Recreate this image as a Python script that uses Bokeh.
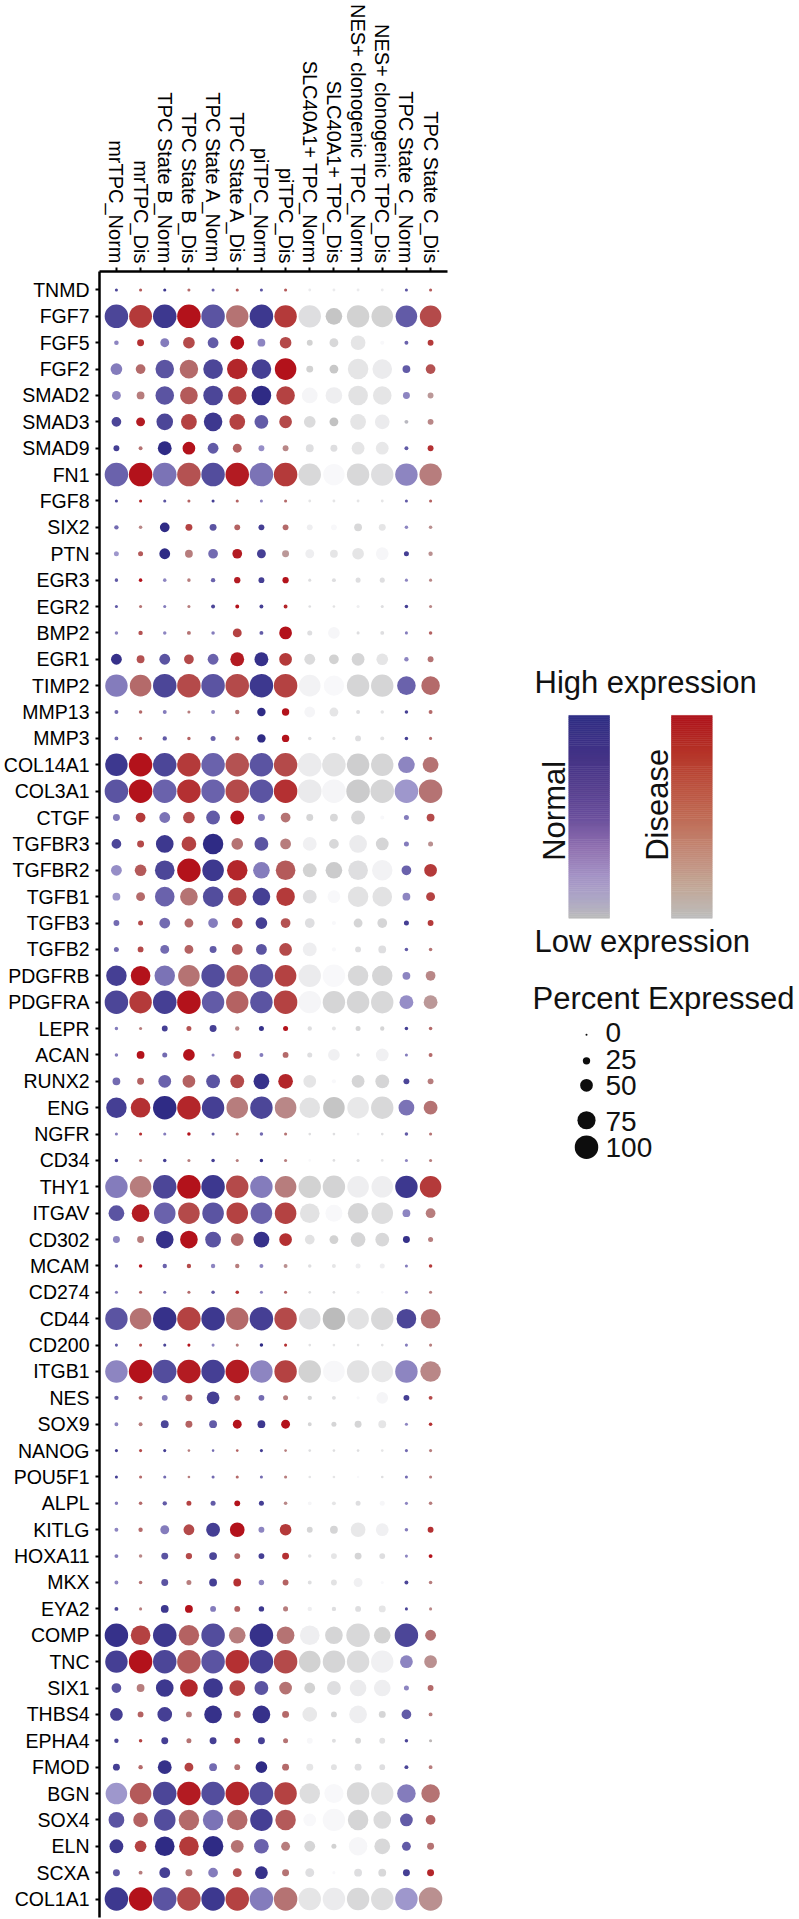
import math
import numpy as np
import pandas as pd
from bokeh.plotting import figure
from bokeh.models import (ColumnDataSource, LinearColorMapper, LinearInterpolator,
                          Range1d, FactorRange)
from bokeh.transform import transform
from bokeh.layouts import row
from bokeh.embed import file_html
from bokeh.resources import INLINE
from bokeh.core.properties import value

# ---------------- data ----------------
genes = ["TNMD", "FGF7", "FGF5", "FGF2", "SMAD2", "SMAD3", "SMAD9", "FN1", "FGF8", "SIX2",
         "PTN", "EGR3", "EGR2", "BMP2", "EGR1", "TIMP2", "MMP13", "MMP3", "COL14A1", "COL3A1",
         "CTGF", "TGFBR3", "TGFBR2", "TGFB1", "TGFB3", "TGFB2", "PDGFRB", "PDGFRA", "LEPR", "ACAN",
         "RUNX2", "ENG", "NGFR", "CD34", "THY1", "ITGAV", "CD302", "MCAM", "CD274", "CD44",
         "CD200", "ITGB1", "NES", "SOX9", "NANOG", "POU5F1", "ALPL", "KITLG", "HOXA11", "MKX",
         "EYA2", "COMP", "TNC", "SIX1", "THBS4", "EPHA4", "FMOD", "BGN", "SOX4", "ELN",
         "SCXA", "COL1A1"]

clusters = ["mrTPC_Norm", "mrTPC_Dis", "TPC State B_Norm", "TPC State B_Dis",
            "TPC State A_Norm", "TPC State A_Dis", "piTPC_Norm", "piTPC_Dis",
            "SLC40A1+ TPC_Norm", "SLC40A1+ TPC_Dis", "NES+ clonogenic TPC_Norm",
            "NES+ clonogenic TPC_Dis", "TPC State C_Norm", "TPC State C_Dis"]

# colour scale used by each cluster: N = normal (blue), D = disease (red), G = grey
cluster_scale = ["N", "D", "N", "D", "N", "D", "N", "D", "G", "G", "G", "G", "N", "D"]

# percent expressed, one list per cluster (gene order as above)
pct_mr_norm = [5,100,12,45,32,36,18,100,5,11, 14,7,5,7,41,95,9,9,95,100, 23,36,41,27,18,14,86,100,7,7,
               27,86,5,7,95,64,23,7,5,95, 5,95,11,9,5,5,7,9,9,9, 9,100,95,36,50,11,23,91,64,55,23,100]
pct_mr_dis = [5,97,23,36,27,32,9,100,5,7, 14,7,5,11,27,91,7,5,100,100, 36,23,45,32,14,18,82,95,5,27,
              23,82,5,5,91,73,23,7,5,91, 5,100,9,9,5,5,7,11,7,7, 5,82,100,27,18,7,11,91,59,45,9,100]
pct_B_norm = [5,100,32,77,77,68,55,100,5,36, 41,7,5,7,41,100,9,11,100,100, 41,73,82,82,41,32,86,100,18,14,
              50,100,5,7,100,91,73,11,5,100, 5,100,18,27,5,5,11,32,23,23, 27,100,100,73,59,23,55,100,91,82,41,100]
pct_B_dis = [5,100,45,77,73,64,50,100,5,23, 27,7,5,9,36,100,5,7,100,100, 45,59,100,73,32,32,91,100,14,45,
             50,100,7,5,100,91,73,11,5,100, 5,100,23,23,3,3,14,41,20,14, 27,86,100,73,18,14,32,100,86,82,23,100]
pct_A_norm = [5,100,41,82,82,77,41,100,5,23, 36,11,9,7,41,100,9,14,100,100, 55,86,91,86,36,23,100,95,23,5,
              55,95,5,7,100,91,64,11,7,100, 5,100,50,27,3,5,14,55,27,27, 18,100,100,82,73,23,27,100,86,86,36,100]
pct_A_dis = [5,95,55,86,77,64,32,100,5,18, 36,20,9,32,55,100,11,11,100,100, 55,45,86,77,41,41,91,95,11,27,
             55,91,5,5,95,91,50,11,7,95, 5,100,18,32,3,5,18,59,18,27, 18,68,100,64,23,18,18,100,86,50,32,100]
pct_pi_norm = [5,100,27,82,82,55,18,100,5,18, 32,18,9,9,55,100,30,30,100,100, 23,55,68,73,45,41,100,95,14,9,
               64,95,7,7,95,91,64,9,5,100, 7,95,18,27,5,5,14,18,18,16, 16,100,100,55,73,23,45,100,95,59,50,100]
pct_pi_dis = [5,95,45,91,77,50,18,100,5,18, 23,20,9,50,50,100,25,25,100,100, 36,41,82,77,36,50,91,100,14,18,
              59,91,5,5,91,91,50,9,5,95, 5,95,14,32,3,5,7,45,23,18, 14,73,100,50,23,14,23,95,86,32,23,100]
pct_slc_norm = [4,95,18,23,64,45,27,95,4,18, 32,5,3,14,41,91,41,7,100,100, 23,55,55,55,36,55,95,95,11,14,
                50,86,3,3,95,82,36,7,3,91, 3,95,11,9,3,3,9,18,7,9, 11,82,91,41,59,18,23,86,50,41,32,95]
pct_slc_dis = [4,68,32,32,68,32,23,90,4,18, 27,9,3,45,36,85,32,5,100,100, 27,36,68,50,10,10,95,95,9,45,
               10,91,3,3,95,70,32,9,3,95, 3,91,9,14,3,3,9,27,18,18, 11,73,95,55,18,9,18,80,95,14,5,95]
pct_nes_norm = [4,95,59,86,82,64,50,95,4,27, 45,14,5,5,50,95,9,18,95,100, 55,73,82,86,32,18,86,95,14,7,
                50,91,3,5,91,86,59,14,5,91, 3,95,5,23,3,2,14,59,23,32, 18,100,95,68,73,18,23,95,86,77,27,95]
pct_nes_dis = [4,91,10,82,77,59,50,95,4,23, 50,14,5,9,45,95,7,9,95,100, 10,50,86,82,36,27,86,95,11,50,
               55,95,3,3,91,91,55,14,3,95, 3,91,45,27,3,3,14,50,18,5, 23,68,95,68,23,18,18,95,73,64,27,95]
pct_C_norm = [5,91,9,27,23,9,9,95,5,7, 14,5,7,5,11,77,7,7,68,100, 14,14,36,27,14,7,27,55,7,5,
              18,64,7,5,95,27,23,5,5,82, 5,95,18,5,5,5,5,7,5,9, 5,100,50,14,36,7,9,77,50,32,23,95]
pct_C_dis = [5,91,18,36,18,18,18,95,5,7, 11,5,5,7,18,77,9,5,64,100, 27,14,50,32,18,7,36,55,7,9,
             18,55,5,5,91,36,14,7,5,82, 5,86,9,7,5,5,7,18,9,7, 5,41,50,18,9,5,9,77,36,23,23,100]

# scaled average expression (0 = low, 1 = high), one list per cluster
expr_mr_norm = [.8,.8,.4,.45,.4,.8,.85,.6,.8,.55, .3,.65,.65,.4,.95,.45,.55,.55,.9,.7,
                .45,.8,.35,.3,.55,.55,.85,.8,.45,.45, .55,.85,.45,.85,.45,.7,.4,.65,.45,.7,
                .65,.4,.55,.4,.85,.85,.45,.4,.45,.4, .8,.95,.85,.7,.85,.8,.85,.3,.7,.9,.65,.9]
expr_mr_dis = [.6,.8,.85,.5,.4,.95,.45,1,.9,.35, .6,1,.45,.65,.65,.5,.5,.5,1,1,
               .8,.7,.6,.5,.7,.7,1,.8,.4,1, .55,.85,.85,.4,.4,.95,.4,1,.55,.45,
               .7,1,.5,.4,.7,.5,.5,.5,.35,.45, .4,.75,1,.4,.55,.75,.5,.6,.55,.75,.4,1]
expr_B_norm = [.9,.9,.45,.7,.7,.8,1,.5,.7,1, 1,.4,.45,.4,.7,.8,.45,.65,.8,.6,
               .5,.9,.8,.6,.55,.55,.5,.85,.85,.55, .6,1,.45,.85,.8,.6,.95,.6,.55,.95,
               .8,.75,.45,.8,.85,.55,.65,.45,.7,.7, .9,.9,.8,.9,.85,.85,.95,.8,.75,1,.85,.7]
expr_B_dis = [.5,1,.7,.5,.6,.75,1,.65,.55,.75, .4,.4,.4,.45,.7,.7,.4,.55,.8,.85,
              .7,.75,1,.45,.5,.55,.45,1,.65,1, .55,.9,1,.4,1,.7,1,.7,.5,.75,
              1,.95,.55,.55,.4,.4,.75,.7,.7,.4, 1,.55,.6,.9,.4,.45,.75,.95,.5,.8,.4,.7]
expr_A_norm = [.6,.7,.65,.8,.8,.9,.65,.75,.85,.7, .55,.6,.8,.45,.6,.7,.4,.6,.6,.6,
               .65,1,.9,.75,.45,.65,.75,.65,.85,.4, .7,.85,.65,.85,.9,.7,.7,.4,.65,.9,
               .4,.85,.85,.65,.55,.55,.65,.85,.8,.85, .45,.75,.7,.9,.95,.85,.55,.75,.5,1,.45,.9]
expr_A_dis = [.6,.45,1,.9,.75,.75,.55,.95,.55,.55, .95,.95,1,.75,.95,.7,.45,.5,.65,.7,
              1,.45,.9,.75,.7,.6,.6,.55,.35,.75, .7,.4,.45,.4,.7,.75,.5,.4,.85,.5,
              .4,.95,.45,1,.55,.5,1,1,.5,.85, .55,.4,.85,.75,.5,.7,.45,.9,.5,.45,.65,.75]
expr_pi_norm = [.7,.9,.4,.85,1,.65,.35,.5,.4,.85, .85,.85,.85,.65,.95,.9,1,1,.7,.7,
                .45,.7,.45,.85,.85,.7,.7,.7,.95,.45, .95,.8,.55,1,.45,.6,.95,.4,.4,.85,
                1,.4,.55,.9,.85,.55,.85,.4,.85,.4, .9,.95,.85,.7,.95,.85,1,.75,.85,.6,.95,.45]
expr_pi_dis = [.6,.8,.7,1,.75,.7,.35,.8,.5,.5, .25,1,.9,1,.8,.75,1,1,.7,.85,
               .45,.4,.6,.8,.65,.7,.75,.75,1,.5, .9,.35,.45,.4,.4,.75,.85,.3,.55,.7,
               .85,.75,.4,1,.4,.4,.35,.8,.85,.55, .4,.45,.7,.45,.5,.45,.5,.75,.6,.4,.45,.45]
expr_slc_norm = [.2,.4,.6,.6,.05,.45,.4,.5,.3,.15, .15,.4,.4,.4,.45,.1,.05,.4,.2,.22,
                 .55,.12,.6,.4,.4,.15,.2,.05,.4,.4, .3,.35,.4,0,.6,.35,.35,.4,.4,.4,
                 .35,.6,.55,.55,.4,.3,.05,.55,.4,.4, .15,.15,.6,.6,.25,.02,.3,.42,0,.55,.4,.3]
expr_slc_dis = [.2,.8,.5,.75,.15,.85,.4,0,.3,0, .3,.4,.35,.03,.6,0,.3,.3,.35,.05,
                .5,.5,.7,0,0,0,0,.55,.3,.12, 0,.8,.4,.4,.58,0,.6,.3,.4,.95,
                .3,.02,.4,.55,.4,.3,.3,.55,.3,.35, .4,.55,.55,.4,.55,.4,.35,0,.02,.6,0,.2]
expr_nes_norm = [.2,.6,.3,.3,.35,.3,.3,.5,.3,.5, .3,.4,.15,.4,.55,.55,.4,.4,.65,.7,
                 .5,.2,.4,.35,.55,.4,.5,.55,.55,.4, .55,.25,.15,.4,.15,.55,.55,.15,.15,.35,
                 .35,.35,0,.55,.4,0,.4,.25,.55,.12, .4,.5,.45,.2,.15,.5,.4,.5,.55,.03,.4,.5]
expr_nes_dis = [.2,.6,0,.2,.3,.2,.25,.4,.3,.3, .03,.4,.4,.4,.3,.55,.35,.35,.55,.55,
                0,.55,.1,.35,.55,.4,.55,.5,.55,.12, .55,.5,.4,.3,.15,.42,.5,.15,0,.5,
                .35,.25,.05,.3,.3,.4,.03,.12,.4,0, .3,.6,.12,.15,.55,.35,.4,.35,.45,.5,.5,.42]
expr_C_norm = [.7,.65,.6,.65,.4,.05,.65,.4,.65,.4, .85,.4,.85,.45,.4,.6,.85,.85,.4,.3,
               .45,.45,.6,.4,.85,.65,.4,.35,.85,.45, .8,.5,.65,.4,.9,.4,.95,.45,.4,.8,
               .45,.4,.85,.4,.55,.55,.4,.45,.4,.8, .8,.8,.4,.4,.65,.8,.8,.45,.65,.65,.85,.3]
expr_C_dis = [.6,.7,.8,.65,.25,.35,.85,.4,.55,.3, .3,.35,.35,.55,.45,.5,.5,.5,.45,.45,
              .7,.3,.8,.75,.8,.45,.35,.25,.5,.5, .4,.45,.45,.4,.8,.4,.4,.8,.4,.45,
              .4,.35,.7,.85,.4,.4,.4,.85,1,.4, .35,.45,.3,.5,.4,.05,.4,.45,.55,.45,.9,.3]

pct_cols = [pct_mr_norm, pct_mr_dis, pct_B_norm, pct_B_dis, pct_A_norm, pct_A_dis,
            pct_pi_norm, pct_pi_dis, pct_slc_norm, pct_slc_dis, pct_nes_norm, pct_nes_dis,
            pct_C_norm, pct_C_dis]
expr_cols = [expr_mr_norm, expr_mr_dis, expr_B_norm, expr_B_dis, expr_A_norm, expr_A_dis,
             expr_pi_norm, expr_pi_dis, expr_slc_norm, expr_slc_dis, expr_nes_norm, expr_nes_dis,
             expr_C_norm, expr_C_dis]
for a in pct_cols + expr_cols:
    assert len(a) == len(genes), len(a)

legend_pcts = [0, 25, 50, 75, 100]
legend_pct_labels = ["0", "25", "50", "75", "100"]

# ---------------- colour scales ----------------
def ramp(stops, n=256):
    pos = [s[0] for s in stops]
    rgb = np.array([[int(s[1][i:i + 2], 16) for i in (1, 3, 5)] for s in stops], float)
    out = []
    for t in np.linspace(0, 1, n):
        c = [int(round(np.interp(t, pos, rgb[:, k]))) for k in range(3)]
        out.append("#%02x%02x%02x" % tuple(c))
    return out

pal_norm = ramp([(0, "#bebebe"), (0.3, "#9e97cc"), (0.6, "#6a62ac"), (1.0, "#2f2b85")])
pal_dis = ramp([(0, "#bebebe"), (0.3, "#ba9090"), (0.5, "#b46a6a"), (0.8, "#b43a3a"), (1.0, "#b3121b")])
pal_grey = ramp([(0, "#f8f8fa"), (1.0, "#b8b8b8")])
mappers = {
    "N": LinearColorMapper(palette=pal_norm, low=0, high=1),
    "D": LinearColorMapper(palette=pal_dis, low=0, high=1),
    "G": LinearColorMapper(palette=pal_grey, low=0, high=1),
}
# gradient keys as drawn in the legend
key_mappers = {
    "N": LinearColorMapper(low=0, high=1, palette=ramp([
        (0, "#bbbbbb"), (0.1, "#ada6c6"), (0.2, "#a594c6"), (0.35, "#9070b0"),
        (0.5, "#6a4f9c"), (0.65, "#553e8e"), (0.8, "#443386"), (1.0, "#2f2e85")])),
    "D": LinearColorMapper(low=0, high=1, palette=ramp([
        (0, "#bdbdbd"), (0.15, "#c2a898"), (0.3, "#c38e7c"), (0.5, "#c06b55"),
        (0.7, "#ba4a38"), (0.85, "#b42e25"), (1.0, "#af141c")])),
}
size_scale = LinearInterpolator(x=[0, 100], y=[2, 23.5])

records = []
for j, cl in enumerate(clusters):
    for i, g in enumerate(genes):
        records.append((cl, g, pct_cols[j][i], expr_cols[j][i], cluster_scale[j]))
df = pd.DataFrame(records, columns=["cluster", "gene", "pct", "expr", "scale"])

FONT = "Liberation Sans"
FIG_H = 1919
TOP = 269          # band above the plotting area (column labels)
BOTTOM = 2
W1 = 450

# ---------------- main dot plot ----------------
p = figure(width=W1, height=FIG_H,
           x_range=FactorRange(factors=clusters, range_padding=0.2, range_padding_units="absolute"),
           y_range=FactorRange(factors=list(reversed(genes)), range_padding=0.2,
                               range_padding_units="absolute"),
           x_axis_location="above", output_backend="svg", toolbar_location=None,
           min_border_left=98, min_border_right=3, min_border_top=TOP, min_border_bottom=BOTTOM)

for key, mapper in mappers.items():
    src = ColumnDataSource(df[df["scale"] == key])
    p.scatter(x="cluster", y="gene", source=src, size=transform("pct", size_scale),
              fill_color=transform("expr", mapper), line_color=None)

p.xgrid.grid_line_color = None
p.ygrid.grid_line_color = None
p.outline_line_color = None
p.background_fill_color = "white"
p.border_fill_color = "white"
for ax in (p.xaxis, p.yaxis):
    ax.axis_line_width = 2.5
    ax.axis_line_color = "black"
    ax.major_tick_line_width = 2
    ax.major_tick_line_color = "black"
    ax.major_tick_out = 4
    ax.major_tick_in = 0
    ax.major_label_text_font = FONT
    ax.major_label_text_color = "black"
p.xaxis.major_label_orientation = -math.pi / 2
p.xaxis.major_label_text_font_size = "20px"
p.xaxis.major_label_standoff = 4
p.yaxis.major_label_text_font_size = "19.5px"
p.yaxis.major_label_standoff = 6

# ---------------- legend panel ----------------
# page coordinates: frame of this panel covers page y TOP .. FIG_H-BOTTOM, x W1 .. 799
WQ = 799 - W1
q = figure(width=WQ, height=FIG_H, x_range=Range1d(W1, W1 + WQ),
           y_range=Range1d(-(FIG_H - BOTTOM), -TOP), x_axis_type=None, y_axis_type=None,
           output_backend="svg", toolbar_location=None,
           min_border_left=0, min_border_right=0, min_border_top=TOP, min_border_bottom=BOTTOM)
q.outline_line_color = None
q.background_fill_color = "white"
q.border_fill_color = "white"

def Y(page_y):
    return -page_y

# gradient bars
steps = np.linspace(0, 1, 101)
bar_top, bar_bot = 713.5, 916.5
for key, (l, r) in (("N", (568.3, 609.0)), ("D", (671.0, 711.7))):
    lv = (steps[:-1] + steps[1:]) / 2
    bsrc = ColumnDataSource(dict(
        v=lv,
        b=[Y(bar_bot - s * (bar_bot - bar_top)) for s in steps[:-1]],
        t=[Y(bar_bot - s * (bar_bot - bar_top)) for s in steps[1:]],
    ))
    q.quad(left=l, right=r, bottom="b", top="t", source=bsrc,
           fill_color=transform("v", key_mappers[key]), line_color=transform("v", key_mappers[key]),
           line_width=0.6)

def label(x, y, txt, size, align="left", angle=0.0):
    # y / x is the visual middle of the capital letters
    q.text(x=[x], y=[Y(y)], text=[txt], text_font=value(FONT), text_font_size=value(size),
           text_align=align, text_baseline="middle", text_color="#111111", angle=angle)

label(534, 680.5, "High expression", "31px")
label(534, 940, "Low expression", "31px")
label(532, 996.5, "Percent Expressed", "31px")
label(553.5, 859, "Normal", "31px", angle=math.pi / 2)
label(656.5, 859, "Disease", "31px", angle=math.pi / 2)

# size legend
dot_y = [1033.3, 1059.3, 1083.8, 1118.8, 1145.7]
lab_y = [1030.7, 1057.5, 1083.8, 1119.7, 1145.8]
ssrc = ColumnDataSource(dict(x=[586] * 5, y=[Y(v) for v in dot_y], pct=legend_pcts))
q.scatter(x="x", y="y", source=ssrc, size=transform("pct", size_scale),
          fill_color="#0d0d0d", line_color=None)
q.text(x=[605] * 5, y=[Y(v) for v in lab_y], text=legend_pct_labels, text_font=value(FONT),
       text_font_size=value("28px"), text_align="left", text_baseline="middle",
       text_color="#111111")

layout = row(p, q)
open("out.html", "w").write(file_html(layout, INLINE))
